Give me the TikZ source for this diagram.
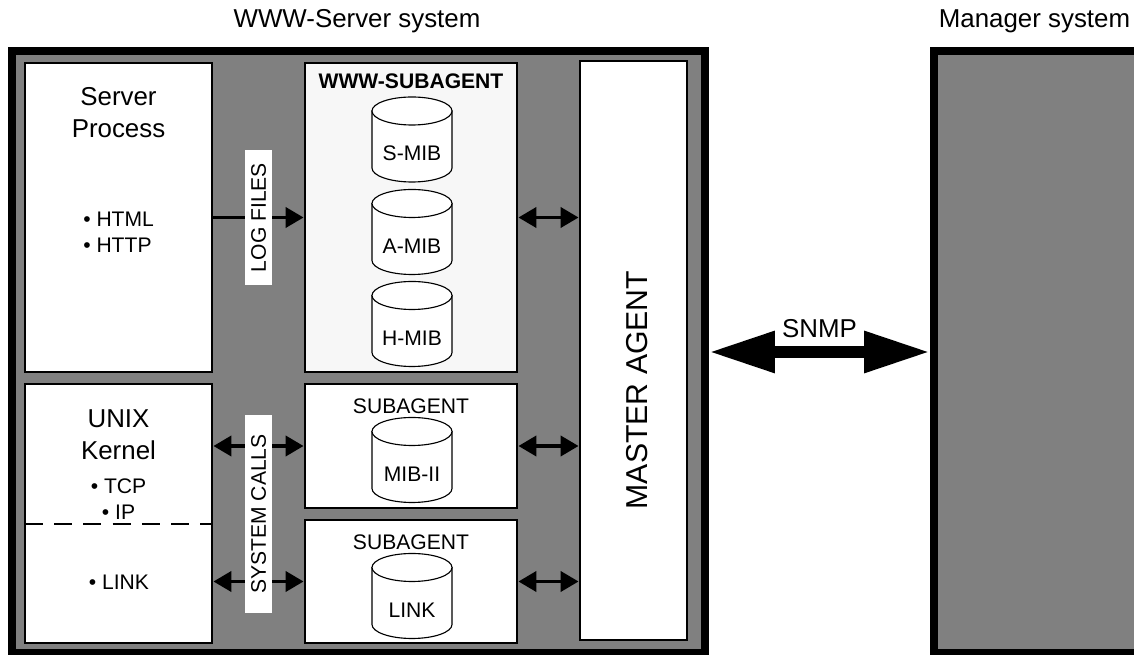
\documentclass[tikz,border=0pt]{standalone}
\usepackage{fontspec}
\setmainfont{Liberation Sans}
\usetikzlibrary{arrows.meta, positioning, fit}
\definecolor{sysgray}{RGB}{128,128,128}
\definecolor{subwhite}{RGB}{247,247,247}

\tikzset{
  midtxt/.style={font=\fontsize{15}{18.5}\selectfont, inner sep=0pt},
  mibcyl/.pic={
    \filldraw[line width=0.8pt, fill=white] (-40,-28.5) -- (-40,28.5)
      arc[start angle=180, end angle=0, x radius=40, y radius=14] -- (40,-28.5) -- cycle;
    \filldraw[line width=0.8pt, fill=white] (0,-28.5) ellipse [x radius=40, y radius=14];
    \node[midtxt, anchor=base] (-lbl) at (0,21.5) {#1};
  }
}

\begin{document}
\begin{tikzpicture}[x=0.025cm, y=-0.025cm,
  sysbox/.style={draw, line width=5.7pt, fill=sysgray, inner sep=0pt},
  box/.style={draw, line width=2pt, fill=white, inner sep=0pt},
  bigtxt/.style={font=\fontsize{18.4}{22.7}\selectfont, inner sep=0pt},
  vlbl/.style={midtxt, rotate=90, fill=white, minimum height=0.675cm},
  dbl/.style={{Triangle[length=12.8pt, width=14.2pt]}-{Triangle[length=12.8pt, width=14.2pt]}, line width=2.8pt},
  sgl/.style={-{Triangle[length=12.8pt, width=14.2pt]}, line width=2.8pt},
  snmp/.style={{Triangle[length=46.8pt, width=27.7pt]}-{Triangle[length=46.8pt, width=27.7pt]}, line width=8.5pt},
]
\useasboundingbox (0,0) rectangle (1134,655);

% Titles
\node[bigtxt, anchor=base] (wwwT) at (357,28) {WWW-Server system};
\node[bigtxt, anchor=base] (mgrT) at (1034.5,28) {Manager system};

% Systems
\node[sysbox, fit={(12,51) (705,653)}] (www) {};
\node[sysbox, fit={(934,51) (1140,653)}] (mgr) {};

% Boxes inside the WWW server
\node[box, fit={(25,63) (212,372)}] (server) {};
\node[box, fit={(25,384) (212,643)}] (unix) {};
\node[box, fill=subwhite, fit={(305,63) (517,372)}] (wwwsub) {};
\node[box, fit={(305,384) (517,508)}] (sub1) {};
\node[box, fit={(305,520) (517,643)}] (sub2) {};
\node[box, fit={(580,61) (687,640)}] (master) {};

% Server process
\node[bigtxt, align=center, anchor=north] (serverT) at (118.5,87) {Server\\Process};
\node[midtxt, align=left, anchor=north west] (serverL) at (83,212) {• HTML\\• HTTP};

% UNIX kernel
\node[bigtxt, align=center, anchor=north] (unixT) at (118.5,409) {UNIX\\Kernel};
\node[midtxt, align=center, anchor=north] (unixL) at (118.5,478) {• TCP\\• IP};
\draw[line width=2pt, dash pattern=on 12.8pt off 8pt] (25,524) -- (212,524);
\node[midtxt, anchor=base] (linkL) at (119,590) {• LINK};

% Subagents and MIBs
\node[midtxt, font={\fontsize{15}{18.5}\selectfont\bfseries}, anchor=base] (wwwsubT) at (411,89) {WWW-SUBAGENT};
\pic (smib) at (412,139.5) {mibcyl=S-MIB};
\pic (amib) at (412,232) {mibcyl=A-MIB};
\pic (hmib) at (412,324) {mibcyl=H-MIB};
\node[midtxt, anchor=base] (sub1T) at (411,414) {SUBAGENT};
\pic (mib2) at (412,460) {mibcyl=MIB-II};
\node[midtxt, anchor=base] (sub2T) at (411,550) {SUBAGENT};
\pic (linkmib) at (412,596) {mibcyl=LINK};

% Master agent
\node[font=\fontsize{21.5}{26}\selectfont, rotate=90, inner sep=0pt] (masterT) at (637,390) {MASTER AGENT};

% Connections
\draw[sgl] (server) -- (wwwsub) node[midway, vlbl, minimum width=3.375cm] (logT) {LOG FILES};
\draw[dbl] (unix.east |- sub1.west) -- (sub1.west);
\draw[dbl] (unix.east |- sub2.west) -- (sub2.west);
\node[vlbl, minimum width=4.95cm] (sysT) at (258.5,514) {SYSTEM CALLS};
\draw[dbl] (wwwsub.east) -- (wwwsub.east -| master.west);
\draw[dbl] (sub1.east) -- (sub1.east -| master.west);
\draw[dbl] (sub2.east) -- (sub2.east -| master.west);
\draw[snmp] (www) -- (mgr) node[midway, above=6pt, bigtxt] (snmpT) {SNMP};
\end{tikzpicture}
\end{document}
